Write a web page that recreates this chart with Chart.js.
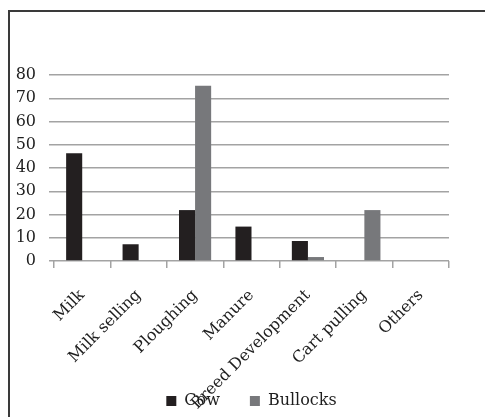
<!DOCTYPE html>
<html>
<head>
<meta charset="utf-8">
<script src="https://cdn.jsdelivr.net/npm/chart.js@4.4.1/dist/chart.umd.min.js"></script>
<style>
  html, body { margin: 0; padding: 0; background: #fff; overflow: hidden; }
  #frame { position: absolute; left: 8px; top: 10px; width: 600px; height: 600px;
           border-left: 2px solid #3a3a3a; border-top: 2px solid #3a3a3a; }
  #wrap { position: absolute; left: 0; top: 0; width: 485px; height: 417px; }
</style>
</head>
<body>
<div id="frame"></div>
<div id="wrap"><canvas id="chart" width="485" height="417"></canvas></div>
<script>
// Uses of cows and bullocks, per cent of respondents
const categories = ['Milk', 'Milk selling', 'Ploughing', 'Manure', 'Breed Development', 'Cart pulling', 'Others'];
const cowValues = [46.3, 7.2, 21.9, 14.8, 8.6, 0, 0];
const bullockValues = [0, 0, 75.4, 0.3, 1.7, 21.9, 0];
const seriesNames = ['Cow', 'Bullocks'];
const yMin = 0, yMax = 80, yStep = 10;

const serif = "'DejaVu Serif', serif";
const gridGrey = '#a3a3a3';
const textCol = '#1e1e1e';

// the long rotated labels run down into the legend, so let the x axis
// labels use the whole canvas height instead of being clipped to the axis box
const unclipLabels = {
    id: 'unclipLabels',
    afterLayout(chart) { chart.scales.x.bottom = chart.height; }
};

new Chart(document.getElementById('chart'), {
    type: 'bar',
    data: {
        labels: categories,
        datasets: [
            { label: seriesNames[0], data: cowValues, backgroundColor: '#231f20' },
            { label: seriesNames[1], data: bullockValues, backgroundColor: '#77787b' }
        ]
    },
    plugins: [unclipLabels],
    options: {
        responsive: false,
        animation: false,
        devicePixelRatio: 1,
        categoryPercentage: 0.57,
        barPercentage: 1.0,
        layout: { padding: { left: 0, right: 36, top: 75, bottom: -2 } },
        plugins: {
            title: { display: false },
            tooltip: { enabled: false },
            legend: {
                position: 'bottom',
                fullSize: false,
                labels: {
                    boxWidth: 10, boxHeight: 10, padding: 30,
                    color: textCol,
                    font: { family: serif, size: 16 }
                }
            }
        },
        scales: {
            x: {
                grid: { offset: true, drawOnChartArea: false, drawTicks: true, tickLength: 7, color: gridGrey, lineWidth: 1.5 },
                border: { display: false },
                ticks: {
                    minRotation: 45, maxRotation: 45, autoSkip: false, padding: 18,
                    color: textCol,
                    font: { family: serif, size: 16 }
                },
                afterFit: s => { s.height = 102; }
            },
            y: {
                min: yMin, max: yMax,
                grid: { drawTicks: true, tickLength: 5, color: gridGrey, lineWidth: 1.5 },
                border: { display: false },
                ticks: {
                    stepSize: yStep, padding: 13,
                    color: textCol,
                    font: { family: serif, size: 16 }
                },
                afterFit: s => { s.width = 54; }
            }
        }
    }
});
</script>
</body>
</html>
